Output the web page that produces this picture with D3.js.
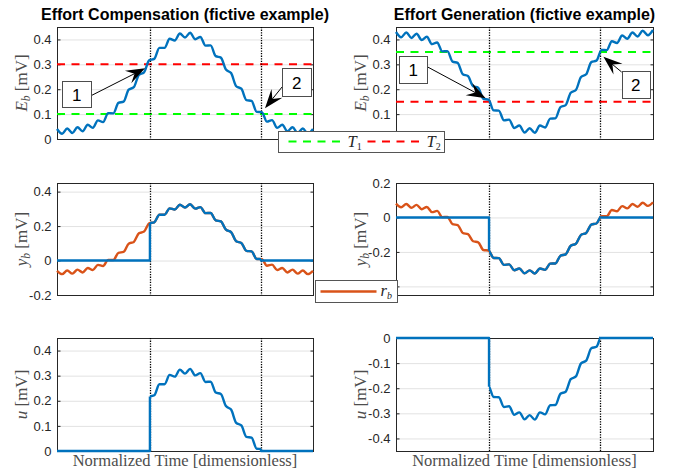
<!DOCTYPE html>
<html>
<head>
<meta charset="utf-8">
<script src="https://cdn.jsdelivr.net/npm/d3@7"></script>
<style>
  body { margin: 0; background: #fff; }
  svg { display: block; font-family: "Liberation Sans", Arial, Helvetica, sans-serif; }
  .tick text { font-size: 13px; fill: #262626; }
  .title { font-size: 16px; font-weight: bold; fill: #000; }
  .math { font-family: "Liberation Serif", "Times New Roman", serif; font-size: 16.5px; fill: #4d4d4d; }
  .ylab { font-size: 17px; }
  .callout { font-size: 17px; fill: #000; }
</style>
</head>
<body>
<div class="chart"></div>
<script>
// normalized time samples
const time = [0.00, 0.02, 0.04, 0.06, 0.08, 0.10, 0.12, 0.14, 0.16, 0.18,
              0.20, 0.22, 0.24, 0.26, 0.28, 0.30, 0.32, 0.34, 0.36, 0.38,
              0.40, 0.42, 0.44, 0.46, 0.48, 0.50, 0.52, 0.54, 0.56, 0.58,
              0.60, 0.62, 0.64, 0.66, 0.68, 0.70, 0.72, 0.74, 0.76, 0.78,
              0.80, 0.82, 0.84, 0.86, 0.88, 0.90, 0.92, 0.94, 0.96, 0.98, 1.00];

// E_b, effort compensation (mV)
const ebComp = [0.040, 0.021, 0.042, 0.024, 0.047, 0.031, 0.057, 0.045, 0.075, 0.068,
                0.104, 0.103, 0.145, 0.150, 0.198, 0.208, 0.258, 0.268, 0.316, 0.322,
                0.366, 0.366, 0.403, 0.396, 0.424, 0.408, 0.427, 0.401, 0.410, 0.375,
                0.376, 0.333, 0.327, 0.279, 0.265, 0.212, 0.202, 0.156, 0.153, 0.109,
                0.108, 0.070, 0.076, 0.045, 0.057, 0.031, 0.047, 0.024, 0.042, 0.021, 0.040];

// E_b, effort generation (mV)
const ebGen = [0.430, 0.409, 0.428, 0.406, 0.423, 0.398, 0.411, 0.381, 0.388, 0.352,
               0.353, 0.311, 0.306, 0.260, 0.253, 0.212, 0.206, 0.161, 0.158, 0.115,
               0.114, 0.075, 0.078, 0.044, 0.054, 0.026, 0.043, 0.025, 0.054, 0.046,
               0.082, 0.083, 0.128, 0.136, 0.186, 0.197, 0.249, 0.260, 0.309, 0.315,
               0.358, 0.357, 0.393, 0.386, 0.416, 0.403, 0.428, 0.412, 0.435, 0.417, 0.438];

// thresholds [T1, T2]
const thresholdsComp = [0.10, 0.30];
const thresholdsGen = [0.35, 0.15];

// switching instants [on, off]
const gatesComp = [0.363, 0.797];
const gatesGen = [0.362, 0.794];

const titles = ["Effort Compensation (fictive example)", "Effort Generation (fictive example)"];

const yDomainsComp = [[0, 0.45], [-0.2, 0.45], [0, 0.45]];
const yTicksComp = [[0, 0.1, 0.2, 0.3, 0.4], [-0.2, 0, 0.2, 0.4], [0, 0.1, 0.2, 0.3, 0.4]];
const yDomainsGen = [[0, 0.45], [-0.45, 0.2], [-0.45, 0]];
const yTicksGen = [[0, 0.1, 0.2, 0.3, 0.4], [-0.4, -0.2, 0, 0.2], [-0.4, -0.3, -0.2, -0.1, 0]];

const yLabels = [["E", "b"], ["y", "b"], ["u", null]];
const xLabel = "Normalized Time [dimensionless]";

// numbered callouts, in axes units: box [x0, x1, yTop, yBottom], arrow from -> to
const calloutsComp = [
    { label: "1", box: [0.021, 0.133, 0.233, 0.128], from: [0.133, 0.174], to: [0.344, 0.284] },
    { label: "2", box: [0.880, 0.992, 0.284, 0.173], from: [0.880, 0.210], to: [0.8125, 0.124] }
];
const calloutsGen = [
    { label: "1", box: [0.013, 0.122, 0.333, 0.226], from: [0.122, 0.290], to: [0.349, 0.164] },
    { label: "2", box: [0.878, 0.988, 0.273, 0.166], from: [0.878, 0.269], to: [0.807, 0.330] }
];

const blue = "#0072BD";
const orange = "#D95319";
const green = "#00ff00";
const red = "#ff0000";
const lw = 2.4;

const w = 678;
const h = 476;
const cols = [{ x0: 57, x1: 313 }, { x0: 396, x1: 653 }];
const rows = [{ y0: 27, y1: 139 }, { y0: 183, y1: 295 }, { y0: 338, y1: 451 }];

const svg = d3.select('.chart')
    .append('svg')
    .attr('width', w)
    .attr('height', h);
const defs = svg.append('defs');

function drawPanel(col, row, domain, ticks, label) {
    const x = d3.scaleLinear().domain([0, 1]).range([col.x0, col.x1]);
    const y = d3.scaleLinear().domain(domain).range([row.y1, row.y0]);
    const g = svg.append('g');

    // grid
    g.append('g')
        .attr('transform', `translate(${col.x0},0)`)
        .call(d3.axisLeft(y).tickValues(ticks).tickSize(-(col.x1 - col.x0)).tickFormat(''))
        .call(a => a.select('.domain').remove())
        .selectAll('line').attr('stroke', '#e2e2e2');

    // box
    g.append('rect')
        .attr('x', col.x0 + 0.5).attr('y', row.y0 + 0.5)
        .attr('width', col.x1 - col.x0).attr('height', row.y1 - row.y0)
        .attr('fill', 'none').attr('stroke', '#262626');

    // ticks, inward on both sides
    g.append('g')
        .attr('class', 'yticks')
        .attr('transform', `translate(${col.x0 + 0.5},0)`)
        .call(d3.axisLeft(y).tickValues(ticks).tickSize(-3).tickPadding(6).tickFormat(d => String(d)))
        .call(a => a.select('.domain').remove())
        .selectAll('line').attr('stroke', '#262626');
    g.append('g')
        .attr('transform', `translate(${col.x1 + 0.5},0)`)
        .call(d3.axisRight(y).tickValues(ticks).tickSize(-3).tickFormat(''))
        .call(a => a.select('.domain').remove())
        .selectAll('line').attr('stroke', '#262626');

    // y label
    const t = g.append('text')
        .attr('class', 'math ylab')
        .attr('transform', `translate(${col.x0 - 30},${(row.y0 + row.y1) / 2}) rotate(-90)`)
        .attr('text-anchor', 'middle');
    t.append('tspan').attr('font-style', 'italic').text(label[0]);
    if (label[1]) {
        t.append('tspan').attr('font-style', 'italic').attr('font-size', 11.5).attr('dy', 3).text(label[1]);
        t.append('tspan').attr('dy', -3).text(' [mV]');
    } else {
        t.append('tspan').text(' [mV]');
    }

    return { g, x, y };
}

function makeLine(p) {
    return d3.line().x(d => p.x(d[0])).y(d => p.y(d[1])).curve(d3.curveMonotoneX);
}

function dotted(p, gate, row) {
    p.g.selectAll('.gate' + row.y0)
        .data(gate)
        .enter().append('line')
        .attr('x1', d => Math.round(p.x(d)) + 0.5).attr('x2', d => Math.round(p.x(d)) + 0.5)
        .attr('y1', row.y0).attr('y2', row.y1)
        .attr('stroke', '#000').attr('stroke-width', 1.3)
        .attr('stroke-dasharray', '1.3,1.3');
}

// y pixel on a drawn path at a given x pixel
function yAtX(node, px) {
    let lo = 0, hi = node.getTotalLength(), pt = node.getPointAtLength(0);
    for (let i = 0; i < 30; i++) {
        const mid = (lo + hi) / 2;
        pt = node.getPointAtLength(mid);
        if (pt.x < px) lo = mid; else hi = mid;
    }
    return pt.y;
}

let clipCount = 0;
function gatedLine(p, pts, gate) {
    const id = 'clip' + (clipCount++);
    defs.append('clipPath').attr('id', id)
        .append('rect')
        .attr('x', p.x(gate[0])).attr('y', 0)
        .attr('width', p.x(gate[1]) - p.x(gate[0])).attr('height', h);
    const path = p.g.append('path')
        .datum(pts)
        .attr('d', makeLine(p))
        .attr('clip-path', `url(#${id})`)
        .attr('fill', 'none').attr('stroke', blue).attr('stroke-width', lw);
    const vOn = p.y.invert(yAtX(path.node(), p.x(gate[0])));
    const vOff = p.y.invert(yAtX(path.node(), p.x(gate[1])));
    const flat = d3.line().x(d => p.x(d[0])).y(d => p.y(d[1]));
    [[[0, 0], [gate[0], 0], [gate[0], vOn]], [[gate[1], vOff], [gate[1], 0], [1, 0]]].forEach(seg => {
        p.g.append('path')
            .attr('d', flat(seg))
            .attr('fill', 'none').attr('stroke', blue).attr('stroke-width', lw)
            .attr('stroke-linejoin', 'round');
    });
}

function callouts(p, list) {
    list.forEach(c => {
        const bx0 = p.x(c.box[0]), bx1 = p.x(c.box[1]);
        const by0 = p.y(c.box[2]), by1 = p.y(c.box[3]);
        const fx = p.x(c.from[0]), fy = p.y(c.from[1]);
        const tx = p.x(c.to[0]), ty = p.y(c.to[1]);
        const len = Math.hypot(tx - fx, ty - fy);
        const ux = (tx - fx) / len, uy = (ty - fy) / len;
        const L = 19, hw = 7;
        p.g.append('line')
            .attr('x1', fx).attr('y1', fy)
            .attr('x2', tx - ux * L * 0.6).attr('y2', ty - uy * L * 0.6)
            .attr('stroke', '#000').attr('stroke-width', 1);
        const head = [
            [tx, ty],
            [tx - ux * L - uy * hw, ty - uy * L + ux * hw],
            [tx - ux * L * 0.62, ty - uy * L * 0.62],
            [tx - ux * L + uy * hw, ty - uy * L - ux * hw]
        ];
        p.g.append('path')
            .attr('d', 'M' + head.join('L') + 'Z')
            .attr('fill', '#000');
        p.g.append('rect')
            .attr('x', Math.round(bx0) + 0.5).attr('y', Math.round(by0) + 0.5)
            .attr('width', Math.round(bx1 - bx0)).attr('height', Math.round(by1 - by0))
            .attr('fill', '#fff').attr('stroke', '#4d4d4d');
        p.g.append('text')
            .attr('class', 'callout')
            .attr('x', (bx0 + bx1) / 2).attr('y', (by0 + by1) / 2 + 6.5)
            .attr('text-anchor', 'middle')
            .text(c.label);
    });
}

const sides = [
    { eb: ebComp, thr: thresholdsComp, gate: gatesComp, doms: yDomainsComp, ticks: yTicksComp, notes: calloutsComp },
    { eb: ebGen, thr: thresholdsGen, gate: gatesGen, doms: yDomainsGen, ticks: yTicksGen, notes: calloutsGen }
];

sides.forEach((s, c) => {
    const col = cols[c];
    const eb = time.map((t, i) => [t, s.eb[i]]);
    const rb = time.map((t, i) => [t, s.eb[i] - s.thr[0]]);

    // row 1: E_b with thresholds
    const p1 = drawPanel(col, rows[0], s.doms[0], s.ticks[0], yLabels[0]);
    p1.g.selectAll('.thr')
        .data(s.thr)
        .enter().append('line')
        .attr('x1', col.x0).attr('x2', col.x1)
        .attr('y1', d => p1.y(d)).attr('y2', d => p1.y(d))
        .attr('stroke', (d, i) => i === 0 ? green : red)
        .attr('stroke-width', 2)
        .attr('stroke-dasharray', '8,6.5');
    dotted(p1, s.gate, rows[0]);
    p1.g.append('path')
        .datum(eb)
        .attr('d', makeLine(p1))
        .attr('fill', 'none').attr('stroke', blue).attr('stroke-width', lw);
    callouts(p1, s.notes);

    svg.append('text')
        .attr('class', 'title')
        .attr('x', (col.x0 + col.x1) / 2).attr('y', 20)
        .attr('text-anchor', 'middle')
        .text(titles[c]);

    // row 2: r_b and gated y_b
    const p2 = drawPanel(col, rows[1], s.doms[1], s.ticks[1], yLabels[1]);
    dotted(p2, s.gate, rows[1]);
    p2.g.append('path')
        .datum(rb)
        .attr('d', makeLine(p2))
        .attr('fill', 'none').attr('stroke', orange).attr('stroke-width', lw);
    gatedLine(p2, rb, s.gate);

    // row 3: u
    const p3 = drawPanel(col, rows[2], s.doms[2], s.ticks[2], yLabels[2]);
    dotted(p3, s.gate, rows[2]);
    gatedLine(p3, rb, s.gate);

    svg.append('text')
        .attr('class', 'math')
        .attr('x', (col.x0 + col.x1) / 2).attr('y', 466)
        .attr('text-anchor', 'middle')
        .text(xLabel);
});

// legend T1 / T2
const leg1Box = { x: 278.5, y: 131.5, w: 166, h: 21 };
const leg1 = svg.append('g').attr('transform', `translate(${leg1Box.x},${leg1Box.y})`);
leg1.append('rect').attr('width', leg1Box.w).attr('height', leg1Box.h).attr('fill', '#fff').attr('stroke', '#555');
[[green, 10, 65, 69, "1"], [red, 89, 144, 148, "2"]].forEach(d => {
    leg1.append('line')
        .attr('x1', d[1]).attr('x2', d[2]).attr('y1', 10).attr('y2', 10)
        .attr('stroke', d[0]).attr('stroke-width', 2).attr('stroke-dasharray', '8,6.5');
    const t = leg1.append('text').attr('class', 'math').attr('x', d[3]).attr('y', 15).style('fill', '#262626');
    t.append('tspan').attr('font-style', 'italic').text('T');
    t.append('tspan').attr('font-size', 10).attr('dy', 3).text(d[4]);
});

// legend r_b
const leg2Box = { x: 315.5, y: 280.5, w: 82, h: 22 };
const leg2 = svg.append('g').attr('transform', `translate(${leg2Box.x},${leg2Box.y})`);
leg2.append('rect').attr('width', leg2Box.w).attr('height', leg2Box.h).attr('fill', '#fff').attr('stroke', '#555');
leg2.append('line')
    .attr('x1', 5).attr('x2', 61).attr('y1', 11).attr('y2', 11)
    .attr('stroke', orange).attr('stroke-width', lw);
const rt = leg2.append('text').attr('class', 'math').attr('x', 65).attr('y', 15).style('fill', '#262626');
rt.append('tspan').attr('font-style', 'italic').text('r');
rt.append('tspan').attr('font-style', 'italic').attr('font-size', 10).attr('dy', 3).text('b');

// tick labels that sit under a legend box are hidden, as in the original figure
svg.selectAll('.yticks .tick text').each(function () {
    const b = this.getBoundingClientRect();
    const hidden = [leg1Box, leg2Box].some(r =>
        b.right > r.x && b.left < r.x + r.w && b.bottom > r.y && b.top < r.y + r.h);
    if (hidden) d3.select(this).remove();
});
</script>
</body>
</html>
